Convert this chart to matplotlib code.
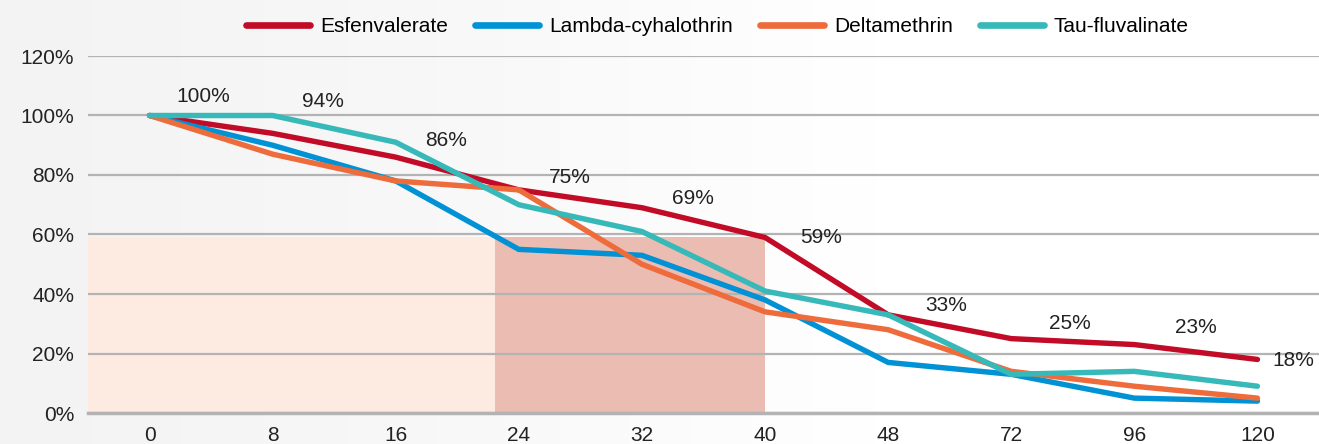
import numpy as np
import matplotlib
matplotlib.use("Agg")
import matplotlib.pyplot as plt
from matplotlib.ticker import FuncFormatter

# hours after application
hours = ["0", "8", "16", "24", "32", "40", "48", "72", "96", "120"]

# remaining activity (%)
esfenvalerate = [100, 94, 86, 75, 69, 59, 33, 25, 23, 18]
lambda_cyhalothrin = [100, 90, 78, 55, 53, 38, 17, 13, 5, 4]
deltamethrin = [100, 87, 78, 75, 50, 34, 28, 14, 9, 5]
tau_fluvalinate = [100, 100, 91, 70, 61, 41, 33, 13, 14, 9]

series_names = ["Esfenvalerate", "Lambda-cyhalothrin", "Deltamethrin", "Tau-fluvalinate"]
colors = ["#c20b26", "#0092d4", "#ee6b3c", "#36b9b8"]

# label offsets (points) for the Esfenvalerate values
label_dx = [39, 36, 36, 37, 37, 40, 42, 42, 44, 26]
label_dy = [14, 23, 12, 9, 7, 0, 7, 11, 12, -1]

plt.rcParams['font.family'] = ['Liberation Sans', 'DejaVu Sans']
FS = 15

fig = plt.figure(figsize=(13.19, 4.44), dpi=100)

# soft gray-to-white background
bg = fig.add_axes([0, 0, 1, 1], zorder=-10)
grad = np.linspace(0, 1, 256).reshape(1, -1)
bg.imshow(grad, aspect='auto', cmap=matplotlib.colors.LinearSegmentedColormap.from_list(
    'bg', ["#f3f3f3", "#f8f8f8", "#ffffff", "#ffffff"]), extent=[0, 1, 0, 1])
bg.axis('off')

ax = fig.add_axes([88 / 1319, 31 / 444, 1 - 88 / 1319, 357 / 444])
ax.patch.set_alpha(0)

x = np.arange(len(hours))

# shaded zones
ax.axvspan(-0.5, 5, ymax=59 / 120, color="#fdebe1", lw=0, zorder=0)
ax.axvspan(2.81, 5, ymax=59 / 120, color="#ebbcb1", lw=0, zorder=0)

all_series = [esfenvalerate, lambda_cyhalothrin, deltamethrin, tau_fluvalinate]
for name, vals, c in zip(series_names, all_series, colors):
    ax.plot(x, vals, color=c, lw=3.9, label=name, solid_capstyle='round',
            solid_joinstyle='miter', zorder=3)

for i, v in enumerate(esfenvalerate):
    ax.annotate(f"{v}%", (x[i], v), xytext=(label_dx[i], label_dy[i]),
                textcoords='offset points', ha='center', va='center',
                fontsize=FS, color="#222222")

ax.set_xlim(-0.5, len(hours) - 0.5)
ax.set_ylim(0, 120)
ax.set_yticks(range(0, 121, 20))
ax.yaxis.set_major_formatter(FuncFormatter(lambda v, p: f"{int(v)}%"))
ax.set_xticks(x)
ax.set_xticklabels(hours)
ax.tick_params(axis='both', length=0, labelsize=FS, colors="#222222")
ax.tick_params(axis='y', pad=10)
ax.tick_params(axis='x', pad=9)

ax.grid(axis='y', color="#b3b3b3", lw=1.6, zorder=1)
ax.set_axisbelow(True)
for s in ['top', 'right', 'left']:
    ax.spines[s].set_visible(False)
ax.spines['bottom'].set_color("#b3b3b3")
ax.spines['bottom'].set_linewidth(2.5)

leg = fig.legend(loc='center', bbox_to_anchor=(0.544, 0.94), ncol=4, frameon=False,
                 fontsize=FS, handlelength=3.07, columnspacing=1.3, handletextpad=0.48)
for h in leg.get_lines():
    h.set_linewidth(4.8)
    h.set_solid_capstyle('round')

fig.savefig("out.png", dpi=100)
